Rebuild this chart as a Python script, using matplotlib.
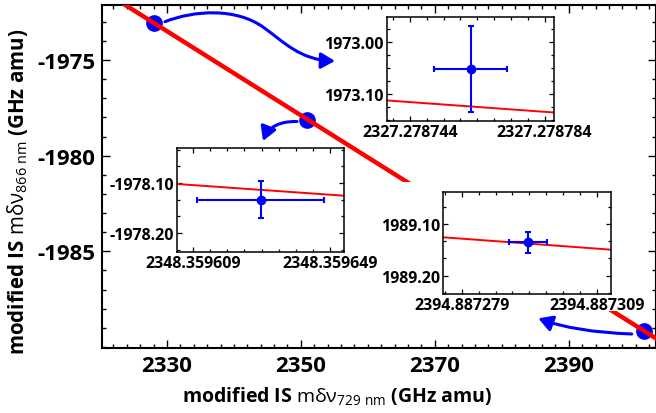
import numpy as np
import matplotlib
matplotlib.use("Agg")
import matplotlib.pyplot as plt
from matplotlib.ticker import FixedLocator, MultipleLocator, AutoMinorLocator, FuncFormatter
from matplotlib.patches import FancyArrowPatch, Rectangle, ArrowStyle
from matplotlib.path import Path
from matplotlib.transforms import Affine2D

# ---------------- data ----------------
main_x = [2328.06, 2350.85, 2401.19]
main_y = [-1973.066, -1978.12, -1989.15]
fit_x = [2318.0, 2405.0]
fit_y = [-1970.854, -1989.985]

x_ticks_main = [2330, 2350, 2370, 2390]
y_ticks_main = [-1975, -1980, -1985]

ins1_x = [2327.2787621]
ins1_y = [-1973.052]
ins1_xerr = [1.084e-5]
ins1_yerr = [0.082]
ins1_fit_x = [2327.2787373, 2327.2787868]
ins1_fit_y = [-1973.112, -1973.135]
ins1_xticks = [2327.278744, 2327.278784]
ins1_yticks = [-1973.00, -1973.10]
ins1_ylim = [-1973.1507, -1972.953]

ins2_x = [2348.3596288]
ins2_y = [-1978.1334]
ins2_xerr = [1.85e-5]
ins2_yerr = [0.0367]
ins2_fit_x = [2348.3596044, 2348.3596531]
ins2_fit_y = [-1978.102, -1978.1254]
ins2_xticks = [2348.359609, 2348.359649]
ins2_yticks = [-1978.10, -1978.20]
ins2_ylim = [-1978.2374, -1978.0306]

ins3_x = [2394.8872937]
ins3_y = [-1989.1354]
ins3_xerr = [4.2e-6]
ins3_yerr = [0.020]
ins3_fit_x = [2394.8872749, 2394.8873121]
ins3_fit_y = [-1989.1257, -1989.1496]
ins3_xticks = [2394.887279, 2394.887309]
ins3_yticks = [-1989.10, -1989.20]
ins3_ylim = [-1989.2354, -1989.0375]

# ---------------- style ----------------
plt.rcParams['font.family'] = ['Open Sans', 'DejaVu Sans']
plt.rcParams['axes.unicode_minus'] = False
plt.rcParams['mathtext.fontset'] = 'custom'
plt.rcParams['mathtext.rm'] = 'Open Sans:weight=normal'
plt.rcParams['mathtext.bf'] = 'Open Sans:weight=bold'
plt.rcParams['mathtext.it'] = 'Open Sans:italic'

W, H = 656, 414
fig = plt.figure(figsize=(W / 100, H / 100), dpi=100)


def px_rect(l, t, r, b):
    return [l / W, 1 - b / H, (r - l) / W, (b - t) / H]


RED = '#ff0000'
BLUE = '#0000ff'

# ---------------- main axes ----------------
ax = fig.add_axes(px_rect(102, 6, 655.7, 349.3), zorder=0)
ax.set_xlim(2320.30, 2402.99)
ax.set_ylim(-1990.07, -1972.125)
ax.plot(main_x, main_y, 'o', color=BLUE, ms=11, zorder=2)
ax.plot(fit_x, fit_y, '-', color=RED, lw=3.2, zorder=3, solid_capstyle='butt')

ax.xaxis.set_major_locator(FixedLocator(x_ticks_main))
ax.xaxis.set_minor_locator(MultipleLocator(2))
ax.yaxis.set_major_locator(FixedLocator(y_ticks_main))
ax.yaxis.set_minor_locator(MultipleLocator(1))
ax.tick_params(which='both', direction='in', top=True, right=True, width=1.0)
ax.tick_params(which='major', length=5.5, labelsize=16, pad=5)
ax.tick_params(which='minor', length=3)
for s in ax.spines.values():
    s.set_linewidth(1.5)
for lab in ax.get_xticklabels() + ax.get_yticklabels():
    lab.set_fontweight('bold')

fig.text(337 / W, 1 - 396.5 / H,
         r"modified IS $\mathrm{m\delta\nu}_{\mathrm{729\ nm}}$ (GHz amu)",
         ha='center', va='center', fontsize=14, fontweight='bold')
fig.text(18 / W, 1 - 192 / H,
         r"modified IS $\mathrm{m\delta\nu}_{\mathrm{866\ nm}}$ (GHz amu)",
         ha='center', va='center', rotation=90, fontsize=14.8, fontweight='bold')

# white background area of the lower-right inset (hides the line)
fig.add_artist(Rectangle((372 / W, 1 - 312 / H), (635 - 372) / W, (312 - 183) / H,
                         transform=fig.transFigure, facecolor='white',
                         edgecolor='none', zorder=1))

# ---------------- arrows (figure pixel coords) ----------------
pxT = Affine2D().scale(1 / W, -1 / H).translate(0, 1) + fig.transFigure
style = ArrowStyle('-|>', head_length=0.7, head_width=0.4)
arrow_paths = [
    Path([(165, 22.7), (195, 11), (236, 9), (263, 28), (284, 43), (300, 61), (335, 62)],
         [Path.MOVETO, Path.CURVE4, Path.CURVE4, Path.CURVE4, Path.CURVE4, Path.CURVE4, Path.CURVE4]),
    Path([(297, 122.5), (271, 122), (263, 142)],
         [Path.MOVETO, Path.CURVE3, Path.CURVE3]),
    Path([(631.7, 335), (575, 333), (538.3, 319.3)],
         [Path.MOVETO, Path.CURVE3, Path.CURVE3]),
]
for p in arrow_paths:
    a = FancyArrowPatch(path=p, arrowstyle=style, mutation_scale=12,
                        color=BLUE, lw=2.2, transform=pxT, zorder=5,
                        shrinkA=0, shrinkB=0)
    fig.add_artist(a)


# ---------------- insets ----------------
def make_inset(rect, x, y, xerr, yerr, fx, fy, xt, yt, ylim, nx, ny, signed):
    ia = fig.add_axes(rect, zorder=2)
    ia.plot(fx, fy, '-', color=RED, lw=1.4, zorder=2)
    ia.errorbar(x, y, xerr=xerr, yerr=yerr, fmt='o', color=BLUE, ms=6,
                elinewidth=1.5, capsize=2.5, capthick=1.5, zorder=3)
    ia.set_xlim(fx[0], fx[1])
    ia.set_ylim(ylim[0], ylim[1])
    ia.xaxis.set_major_locator(FixedLocator(xt))
    ia.yaxis.set_major_locator(FixedLocator(yt))
    ia.xaxis.set_minor_locator(AutoMinorLocator(nx))
    ia.yaxis.set_minor_locator(AutoMinorLocator(ny))
    ia.xaxis.set_major_formatter(FuncFormatter(lambda v, p: f"{v:.6f}"))
    if signed:
        ia.yaxis.set_major_formatter(FuncFormatter(lambda v, p: f"{v:.2f}"))
    else:
        ia.yaxis.set_major_formatter(FuncFormatter(lambda v, p: f"{abs(v):.2f}"))
    ia.tick_params(which='both', direction='in', top=True, right=True, width=0.9)
    ia.tick_params(which='major', length=3.5, labelsize=11.5, pad=2.5)
    ia.tick_params(which='minor', length=2)
    for s in ia.spines.values():
        s.set_linewidth(1.1)
    for lab in ia.get_xticklabels() + ia.get_yticklabels():
        lab.set_fontweight('bold')
    return ia


make_inset(px_rect(387.3, 18.3, 554, 121.7), ins1_x, ins1_y, ins1_xerr, ins1_yerr,
           ins1_fit_x, ins1_fit_y, ins1_xticks, ins1_yticks, ins1_ylim, 8, 4, False)
make_inset(px_rect(177.3, 149.3, 344, 252.7), ins2_x, ins2_y, ins2_xerr, ins2_yerr,
           ins2_fit_x, ins2_fit_y, ins2_xticks, ins2_yticks, ins2_ylim, 8, 3, True)
make_inset(px_rect(443.3, 192.7, 610.7, 295), ins3_x, ins3_y, ins3_xerr, ins3_yerr,
           ins3_fit_x, ins3_fit_y, ins3_xticks, ins3_yticks, ins3_ylim, 8, 3, False)

fig.savefig("out.png", dpi=100)
